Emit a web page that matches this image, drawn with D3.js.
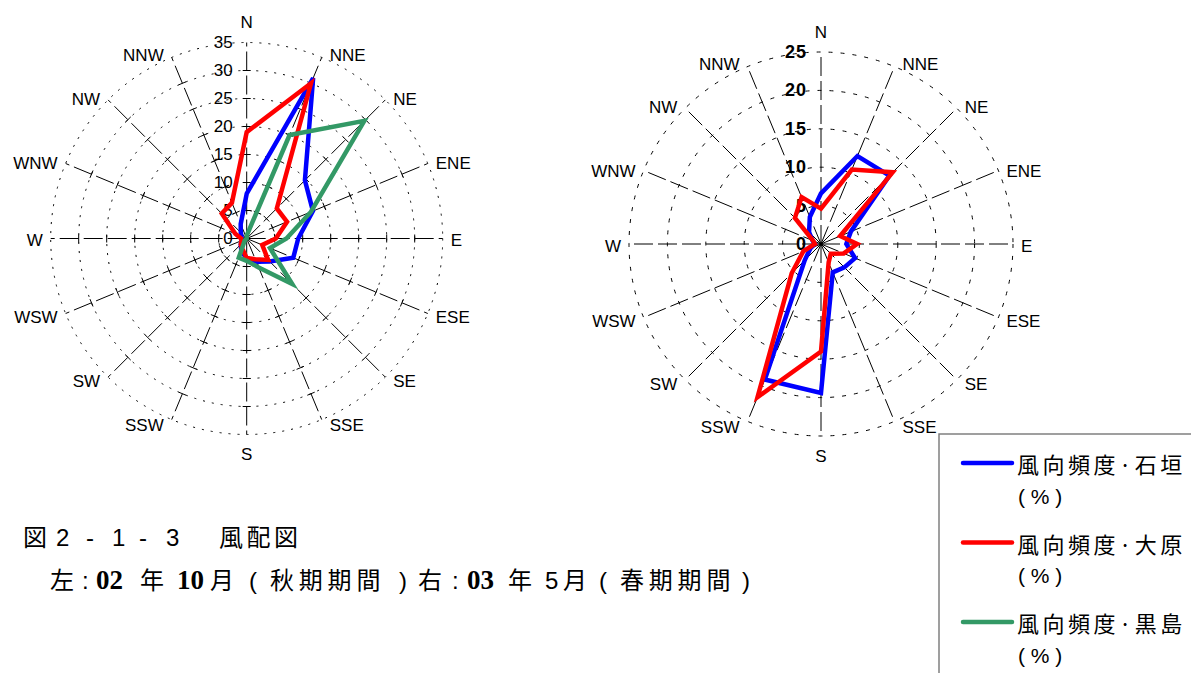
<!DOCTYPE html>
<html>
<head>
<meta charset="utf-8">
<script src="https://cdn.jsdelivr.net/npm/d3@7"></script>
<style>
  body { margin: 0; background: #fff; }
  svg { display: block; }
</style>
</head>
<body>
<svg id="chart" width="1191" height="673"></svg>
<script>
// 16 compass directions, clockwise from north
const directions = ["N","NNE","NE","ENE","E","ESE","SE","SSE","S","SSW","SW","WSW","W","WNW","NW","NNW"];

// Autumn period (Oct 2002), wind direction frequency (%)
const autumnIshigaki  = [8, 31, 14.7, 12.8, 9.2, 9, 5.8, 4.5, 3.5, 2.5, 1.5, 1, 1, 1, 1.5, 2.8];
const autumnOhara     = [19, 30, 7.6, 7.8, 5.2, 3, 5.4, 4, 3.5, 2, 1.5, 1, 1, 2.2, 6.3, 6.9];
const autumnKuroshima = [0.5, 20, 29.7, 12.4, 7.1, 4.5, 11.5, 5.6, 4, 3.7, 0.5, 0, 0, 0, 0, 0];

// Spring period (May 2003), wind direction frequency (%)
const springIshigaki  = [6.6, 12.4, 12.6, 4.2, 3.3, 4.8, 4.3, 4.0, 19.4, 19.1, 3, 1.5, 0.8, 1.2, 2.2, 3.8];
const springOhara     = [4.6, 10.5, 13.2, 2.7, 4.7, 3.2, 1.8, 2.6, 14, 21.6, 5.4, 2.5, 0.8, 1.1, 4.8, 6.6];

// Radial axis tick labels
const autumnTicks = [0, 5, 10, 15, 20, 25, 30, 35];
const springTicks = [0, 5, 10, 15, 20, 25];

// Legend entries
const seriesNames  = ["風向頻度·石垣", "風向頻度·大原", "風向頻度·黒島"];
const seriesColors = ["#0000ff", "#ff0000", "#339966"];

const svg = d3.select("#chart");
const LATIN = "'Liberation Sans', Arial, sans-serif";
const CJK = "'Noto Sans CJK JP', 'Noto Sans', sans-serif";
const SERIF = "'Liberation Serif', 'Times New Roman', serif";

function drawRadar(opts) {
  const { cx, cy, R, ticks, series, boldTicks, spokeTicks, ringDash } = opts;
  const maxV = ticks[ticks.length - 1];
  const g = svg.append("g").attr("transform", `translate(${cx},${cy})`);
  const r = d3.scaleLinear().domain([0, maxV]).range([0, R]);
  const angle = d3.scaleLinear().domain([0, directions.length]).range([0, 2 * Math.PI]);
  const ang = i => angle(i);

  // dashed rings
  g.append("g").selectAll("circle")
    .data(ticks.filter(t => t > 0))
    .join("circle")
    .attr("r", d => r(d))
    .attr("fill", "none")
    .attr("stroke", "#000")
    .attr("stroke-width", 1)
    .attr("stroke-dasharray", ringDash);

  // spokes
  const spokes = g.append("g");
  directions.forEach((d, i) => {
    const a = ang(i);
    const sx = Math.sin(a), sy = -Math.cos(a);
    spokes.append("line")
      .attr("x1", 0).attr("y1", 0)
      .attr("x2", sx * R).attr("y2", sy * R)
      .attr("stroke", "#000")
      .attr("stroke-width", 1)
      .attr("stroke-dasharray", "19,5");
    if (spokeTicks) {
      ticks.filter(t => t > 0 && t < maxV).forEach(t => {
        const px = sx * r(t), py = sy * r(t);
        const nx = -sy * 4, ny = sx * 4;
        spokes.append("line")
          .attr("x1", px - nx).attr("y1", py - ny)
          .attr("x2", px + nx).attr("y2", py + ny)
          .attr("stroke", "#000").attr("stroke-width", 1);
      });
    }
  });

  // direction labels
  g.append("g").selectAll("text")
    .data(directions)
    .join("text")
    .each(function (d, i) {
      const a = ang(i);
      const sx = Math.sin(a), sy = -Math.cos(a);
      const ex = sx * R, ey = sy * R;
      const t = d3.select(this);
      if (Math.abs(sx) < 0.01) {
        t.attr("x", 0).attr("y", ey + sy * 20).attr("text-anchor", "middle");
      } else {
        t.attr("x", ex + (sx > 0 ? 8 : -8))
         .attr("y", ey - 4 * Math.cos(a) + 2)
         .attr("text-anchor", sx > 0 ? "start" : "end");
      }
    })
    .attr("dominant-baseline", "central")
    .attr("font-family", LATIN)
    .attr("font-size", 17)
    .attr("fill", "#000")
    .text(d => d);

  // radial tick labels along the north spoke
  g.append("g").selectAll("text")
    .data(ticks)
    .join("text")
    .attr("x", -14)
    .attr("y", d => -r(d))
    .attr("text-anchor", "end")
    .attr("dominant-baseline", "central")
    .attr("font-family", LATIN)
    .attr("font-size", boldTicks ? 18 : 17)
    .attr("font-weight", boldTicks ? "bold" : "normal")
    .attr("letter-spacing", boldTicks ? 1 : 0)
    .attr("fill", "#000")
    .text(d => d);

  // series polygons
  const line = d3.lineRadial()
    .angle((d, i) => ang(i))
    .radius(d => r(d))
    .curve(d3.curveLinearClosed);

  g.append("g").selectAll("path")
    .data(series)
    .join("path")
    .attr("d", s => line(s.values))
    .attr("fill", "none")
    .attr("stroke", s => s.color)
    .attr("stroke-width", 4.5)
    .attr("stroke-linejoin", "miter");
}

drawRadar({
  cx: 246.7, cy: 238.5, R: 196, ticks: autumnTicks, boldTicks: false, spokeTicks: true,
  ringDash: "2,7",
  series: [
    { values: autumnIshigaki, color: seriesColors[0] },
    { values: autumnOhara, color: seriesColors[1] },
    { values: autumnKuroshima, color: seriesColors[2] }
  ]
});

drawRadar({
  cx: 821, cy: 244, R: 192, ticks: springTicks, boldTicks: true, spokeTicks: false,
  ringDash: "4,8",
  series: [
    { values: springIshigaki, color: seriesColors[0] },
    { values: springOhara, color: seriesColors[1] }
  ]
});

// legend
const legend = svg.append("g");
legend.append("path")
  .attr("d", "M939,673 L939,434 L1191,434")
  .attr("fill", "none")
  .attr("stroke", "#808080")
  .attr("stroke-width", 1.5);

const legendY = d3.scaleLinear().domain([0, 1]).range([463, 542.5]);
seriesNames.forEach((name, i) => {
  const y = legendY(i);
  legend.append("line")
    .attr("x1", 963).attr("x2", 1012)
    .attr("y1", y).attr("y2", y)
    .attr("stroke", seriesColors[i])
    .attr("stroke-width", 4.5)
    .attr("stroke-linecap", "round");
  legend.append("text")
    .attr("x", 1017).attr("y", y)
    .attr("dominant-baseline", "central")
    .attr("font-family", CJK)
    .attr("font-size", 22)
    .attr("letter-spacing", 3.5)
    .text(name);
  legend.append("text")
    .attr("x", 1018).attr("y", y + 33)
    .attr("dominant-baseline", "central")
    .attr("font-family", LATIN)
    .attr("font-size", 21)
    .attr("xml:space", "preserve")
    .text("( % )");
});

// caption: each piece is set at its own x so the spacing of the figure title is kept
function captionLine(y, pieces) {
  const t = svg.append("text").attr("y", y).attr("font-size", 24);
  pieces.forEach(p => {
    t.append("tspan")
      .attr("x", p.x)
      .attr("font-family", p.font || CJK)
      .attr("font-weight", p.bold ? "bold" : "normal")
      .attr("font-size", p.size || 24)
      .attr("letter-spacing", p.ls || 0)
      .text(p.text);
  });
}

captionLine(546, [
  { x: 23, text: "図" },
  { x: 56, text: "2", font: LATIN },
  { x: 86, text: "-", font: LATIN },
  { x: 112, text: "1", font: LATIN },
  { x: 139, text: "-", font: LATIN },
  { x: 166, text: "3", font: LATIN },
  { x: 219, text: "風配図", ls: 3.5 }
]);

captionLine(589, [
  { x: 50, text: "左" },
  { x: 82, text: ":", font: LATIN },
  { x: 96, text: "02", font: SERIF, bold: true, size: 27 },
  { x: 140, text: "年" },
  { x: 177, text: "10", font: SERIF, bold: true, size: 27 },
  { x: 210, text: "月" },
  { x: 249, text: "(", font: LATIN },
  { x: 270, text: "秋期期間", ls: 4.8 },
  { x: 399, text: ")", font: LATIN },
  { x: 418, text: "右" },
  { x: 452, text: ":", font: LATIN },
  { x: 467, text: "03", font: SERIF, bold: true, size: 27 },
  { x: 508, text: "年" },
  { x: 545, text: "5", font: LATIN },
  { x: 563, text: "月" },
  { x: 599, text: "(", font: LATIN },
  { x: 620, text: "春期期間", ls: 4.8 },
  { x: 742, text: ")", font: LATIN }
]);
</script>
</body>
</html>
